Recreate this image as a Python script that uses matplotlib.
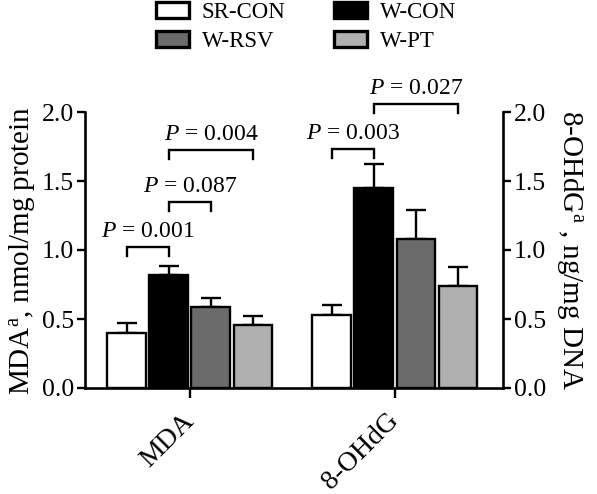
import numpy as np
import matplotlib
matplotlib.use('Agg')
import matplotlib.pyplot as plt
from matplotlib.patches import Patch

plt.rcParams['font.family'] = ['Liberation Serif', 'DejaVu Serif']
plt.rcParams['mathtext.fontset'] = 'custom'
plt.rcParams['mathtext.rm'] = 'Liberation Serif'
plt.rcParams['mathtext.it'] = 'Liberation Serif:italic'

# Data
markers = ['MDA', '8-OHdG']
groups = ['SR-CON', 'W-CON', 'W-RSV', 'W-PT']
means = {
    'SR-CON': [0.40, 0.53],
    'W-CON': [0.82, 1.45],
    'W-RSV': [0.59, 1.08],
    'W-PT': [0.46, 0.74],
}
errors = {
    'SR-CON': [0.07, 0.07],
    'W-CON': [0.065, 0.17],
    'W-RSV': [0.065, 0.21],
    'W-PT': [0.06, 0.14],
}
colors = ['white', 'black', '#6b6b6b', '#b0b0b0']

# significance brackets: (marker index, group a, group b, bracket height, label)
brackets = [
    (0, 0, 1, 1.02, '0.001'),
    (0, 1, 2, 1.35, '0.087'),
    (0, 1, 3, 1.725, '0.004'),
    (1, 0, 1, 1.735, '0.003'),
    (1, 1, 3, 2.06, '0.027'),
]

W, H = 597, 494
fig = plt.figure(figsize=(W / 100, H / 100), dpi=100)
ax = fig.add_axes([85 / W, 1 - 388 / H, (503 - 85) / W, (388 - 112) / H])

x = np.arange(len(markers))
step = 0.205
width = 0.19
offsets = (np.arange(len(groups)) - 1.5) * step

for i, g in enumerate(groups):
    ax.bar(x + offsets[i], means[g], width, color=colors[i], edgecolor='black',
           linewidth=1.7, zorder=2)
    ax.errorbar(x + offsets[i], means[g], yerr=[np.zeros(len(markers)), errors[g]],
                fmt='none', ecolor='black', elinewidth=1.7, capsize=7.5,
                capthick=1.7, zorder=1)

drop = 0.065
for m, a, b, yb, lab in brackets:
    xa = x[m] + offsets[a]
    xb = x[m] + offsets[b]
    ax.plot([xa, xa, xb, xb], [yb - drop, yb, yb, yb - drop], color='black',
            lw=1.7, clip_on=False, solid_joinstyle='miter')
    ax.text((xa + xb) / 2, yb + 0.035, r'$P$ = ' + lab, ha='center', va='bottom',
            fontsize=17, clip_on=False)

ax.set_xlim(-0.512, 1.527)
ax.set_ylim(0, 2.0)
ax.set_yticks([0, 0.5, 1.0, 1.5, 2.0])
ax.set_yticklabels(['0.0', '0.5', '1.0', '1.5', '2.0'])
ax.set_xticks(x)
ax.set_xticklabels(markers, rotation=45, ha='right', va='center',
                   rotation_mode='anchor', fontsize=20)

for s in ['top', 'right']:
    ax.spines[s].set_visible(False)
for s in ['left', 'bottom']:
    ax.spines[s].set_linewidth(1.9)
ax.tick_params(axis='y', width=1.7, length=6, labelsize=18.5, pad=2)
ax.tick_params(axis='x', width=1.7, length=7, pad=14)

ax.set_ylabel(r'MDA$^{\rm a}$, nmol/mg protein', fontsize=21, labelpad=3)

ax2 = ax.twinx()
ax2.set_ylim(0, 2.0)
ax2.set_yticks([0, 0.5, 1.0, 1.5, 2.0])
ax2.set_yticklabels(['0.0', '0.5', '1.0', '1.5', '2.0'])
for s in ['top', 'left', 'bottom']:
    ax2.spines[s].set_visible(False)
ax2.spines['right'].set_linewidth(1.9)
ax2.tick_params(axis='y', width=1.7, length=6, labelsize=18.5, pad=2)
ax2.set_ylabel(r'8-OHdG$^{\rm a}$ , ng/mg DNA', fontsize=21, rotation=270,
               labelpad=28)

# legend fills column-wise, so order handles to get rows SR-CON/W-CON, W-RSV/W-PT
order = [0, 2, 1, 3]
handles = [Patch(facecolor=colors[i], edgecolor='black', linewidth=2.4) for i in order]
labels = [groups[i] for i in order]
fig.legend(handles, labels, loc='upper left', bbox_to_anchor=(156 / W, 1 - 2 / H),
           ncol=2, frameon=False, fontsize=16.5, handlelength=1.45, handleheight=0.65,
           handletextpad=0.55, columnspacing=2.1, labelspacing=0.35,
           borderpad=0, borderaxespad=0)

fig.savefig('out.png', dpi=100)
